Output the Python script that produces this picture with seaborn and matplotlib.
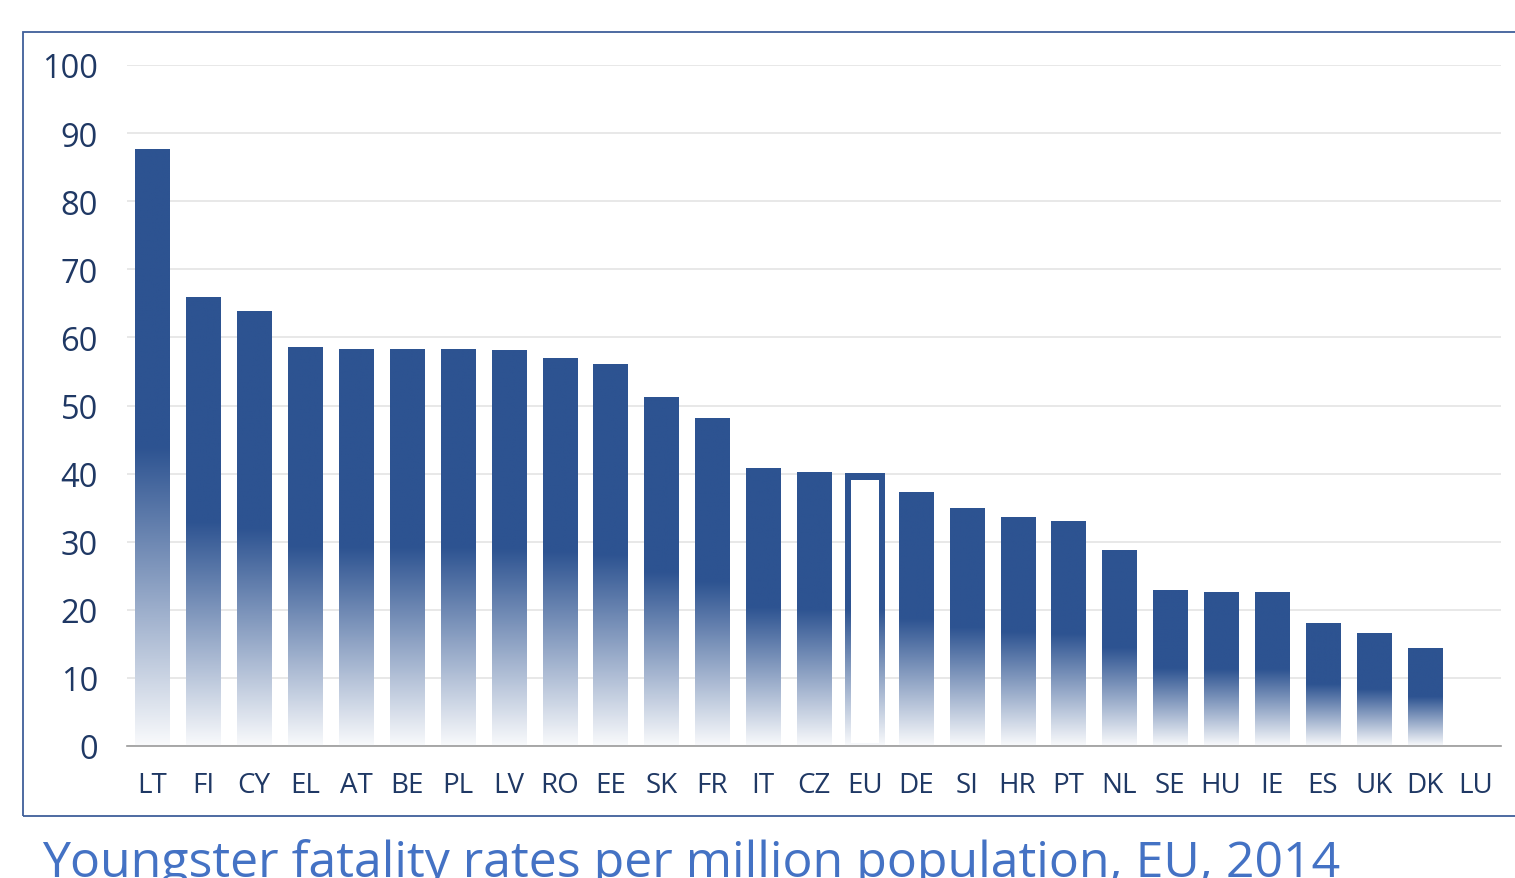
import numpy as np
import pandas as pd
import matplotlib
matplotlib.use("Agg")
import matplotlib.pyplot as plt
import seaborn as sns
from matplotlib.patches import Rectangle
from matplotlib.colors import to_rgb

countries = ["LT", "FI", "CY", "EL", "AT", "BE", "PL", "LV", "RO", "EE", "SK", "FR", "IT",
             "CZ", "EU", "DE", "SI", "HR", "PT", "NL", "SE", "HU", "IE", "ES", "UK", "DK", "LU"]
rates = [87.7, 65.9, 63.9, 58.6, 58.3, 58.3, 58.3, 58.1, 57.0, 56.1, 51.2, 48.2, 40.8,
         40.2, 39.9, 37.3, 34.9, 33.6, 33.0, 28.8, 22.9, 22.6, 22.6, 18.1, 16.6, 14.4, 0.0]
y_ticks = [0, 10, 20, 30, 40, 50, 60, 70, 80, 90, 100]
title = "Youngster fatality rates per million population, EU, 2014"
highlight = "EU"

sns.set_theme(style="white")
plt.rcParams["font.family"] = ["Open Sans", "DejaVu Sans"]

BAR = "#2D5391"
TXT = "#1F3864"

W, H = 1515, 879
fig = plt.figure(figsize=(W / 100, H / 100), dpi=100)
ax = fig.add_axes([127 / W, 1 - 747 / H, (1501 - 127) / W, (747 - 66) / H])

df = pd.DataFrame({"country": countries, "rate": rates})
sns.barplot(data=df, x="country", y="rate", order=countries, color=BAR, width=0.67,
            ax=ax, zorder=2)

ax.set_xlim(-0.5, len(countries) - 0.5)
ax.set_ylim(0, 100)
ax.set_yticks(y_ticks)
ax.set_xlabel("")
ax.set_ylabel("")
ax.yaxis.grid(True, color="#E6E6E6", lw=1.3, zorder=0)
ax.set_axisbelow(True)
for s in ["top", "right", "left"]:
    ax.spines[s].set_visible(False)
ax.spines["bottom"].set_color("#9A9A9A")
ax.spines["bottom"].set_linewidth(1.2)
ax.tick_params(axis="y", length=0, pad=21, labelsize=23.5, labelcolor=TXT)
ax.tick_params(axis="x", length=0, pad=18, labelsize=20, labelcolor=TXT)

# gradient fill: solid in upper half, fading to white in lower half
base = np.array(to_rgb(BAR))
n = 256
t = np.linspace(0, 1, n)  # 0 bottom -> 1 top
mix = np.clip(t / 0.5, 0, 1)
mix = 0.03 + 0.97 * mix
grad = (1 - mix[:, None]) * np.ones(3) + mix[:, None] * base
grad = grad[::-1][:, None, :]  # top row first

for patch, c in zip(ax.patches, countries):
    x0 = patch.get_x()
    w = patch.get_width()
    h = patch.get_height()
    if h <= 0:
        continue
    patch.set_facecolor("none")
    patch.set_edgecolor("none")
    if c == highlight:
        ex = 2.5 / 50.9
        im = ax.imshow(grad, extent=[x0 - ex, x0 + w + ex, 0, h + 0.1], aspect="auto",
                       interpolation="bilinear", zorder=2)
        dx = 5.5 / 50.9
        dy = 6.0 / 6.81
        ax.add_patch(Rectangle((x0 - ex + dx, 0.4), w + 2 * ex - 2 * dx, h + 0.1 - dy - 0.4,
                               facecolor="white", edgecolor="none", zorder=3))
    else:
        im = ax.imshow(grad, extent=[x0, x0 + w, 0, h], aspect="auto",
                       interpolation="bilinear", zorder=2)
        im.set_clip_path(patch)

ax.set_xlim(-0.5, len(countries) - 0.5)
ax.set_ylim(0, 100)

# outer frame
fig.patches.append(Rectangle((23 / W, 1 - 817 / H), 1.2, (817 - 33) / H,
                             transform=fig.transFigure, facecolor="none",
                             edgecolor="#3F5F9A", lw=1.3, zorder=0))

fig.text(42 / W, 1 - 877 / H, title, fontsize=36, color="#4472C4", ha="left",
         va="baseline")

fig.savefig("out.png", dpi=100, facecolor="white")
